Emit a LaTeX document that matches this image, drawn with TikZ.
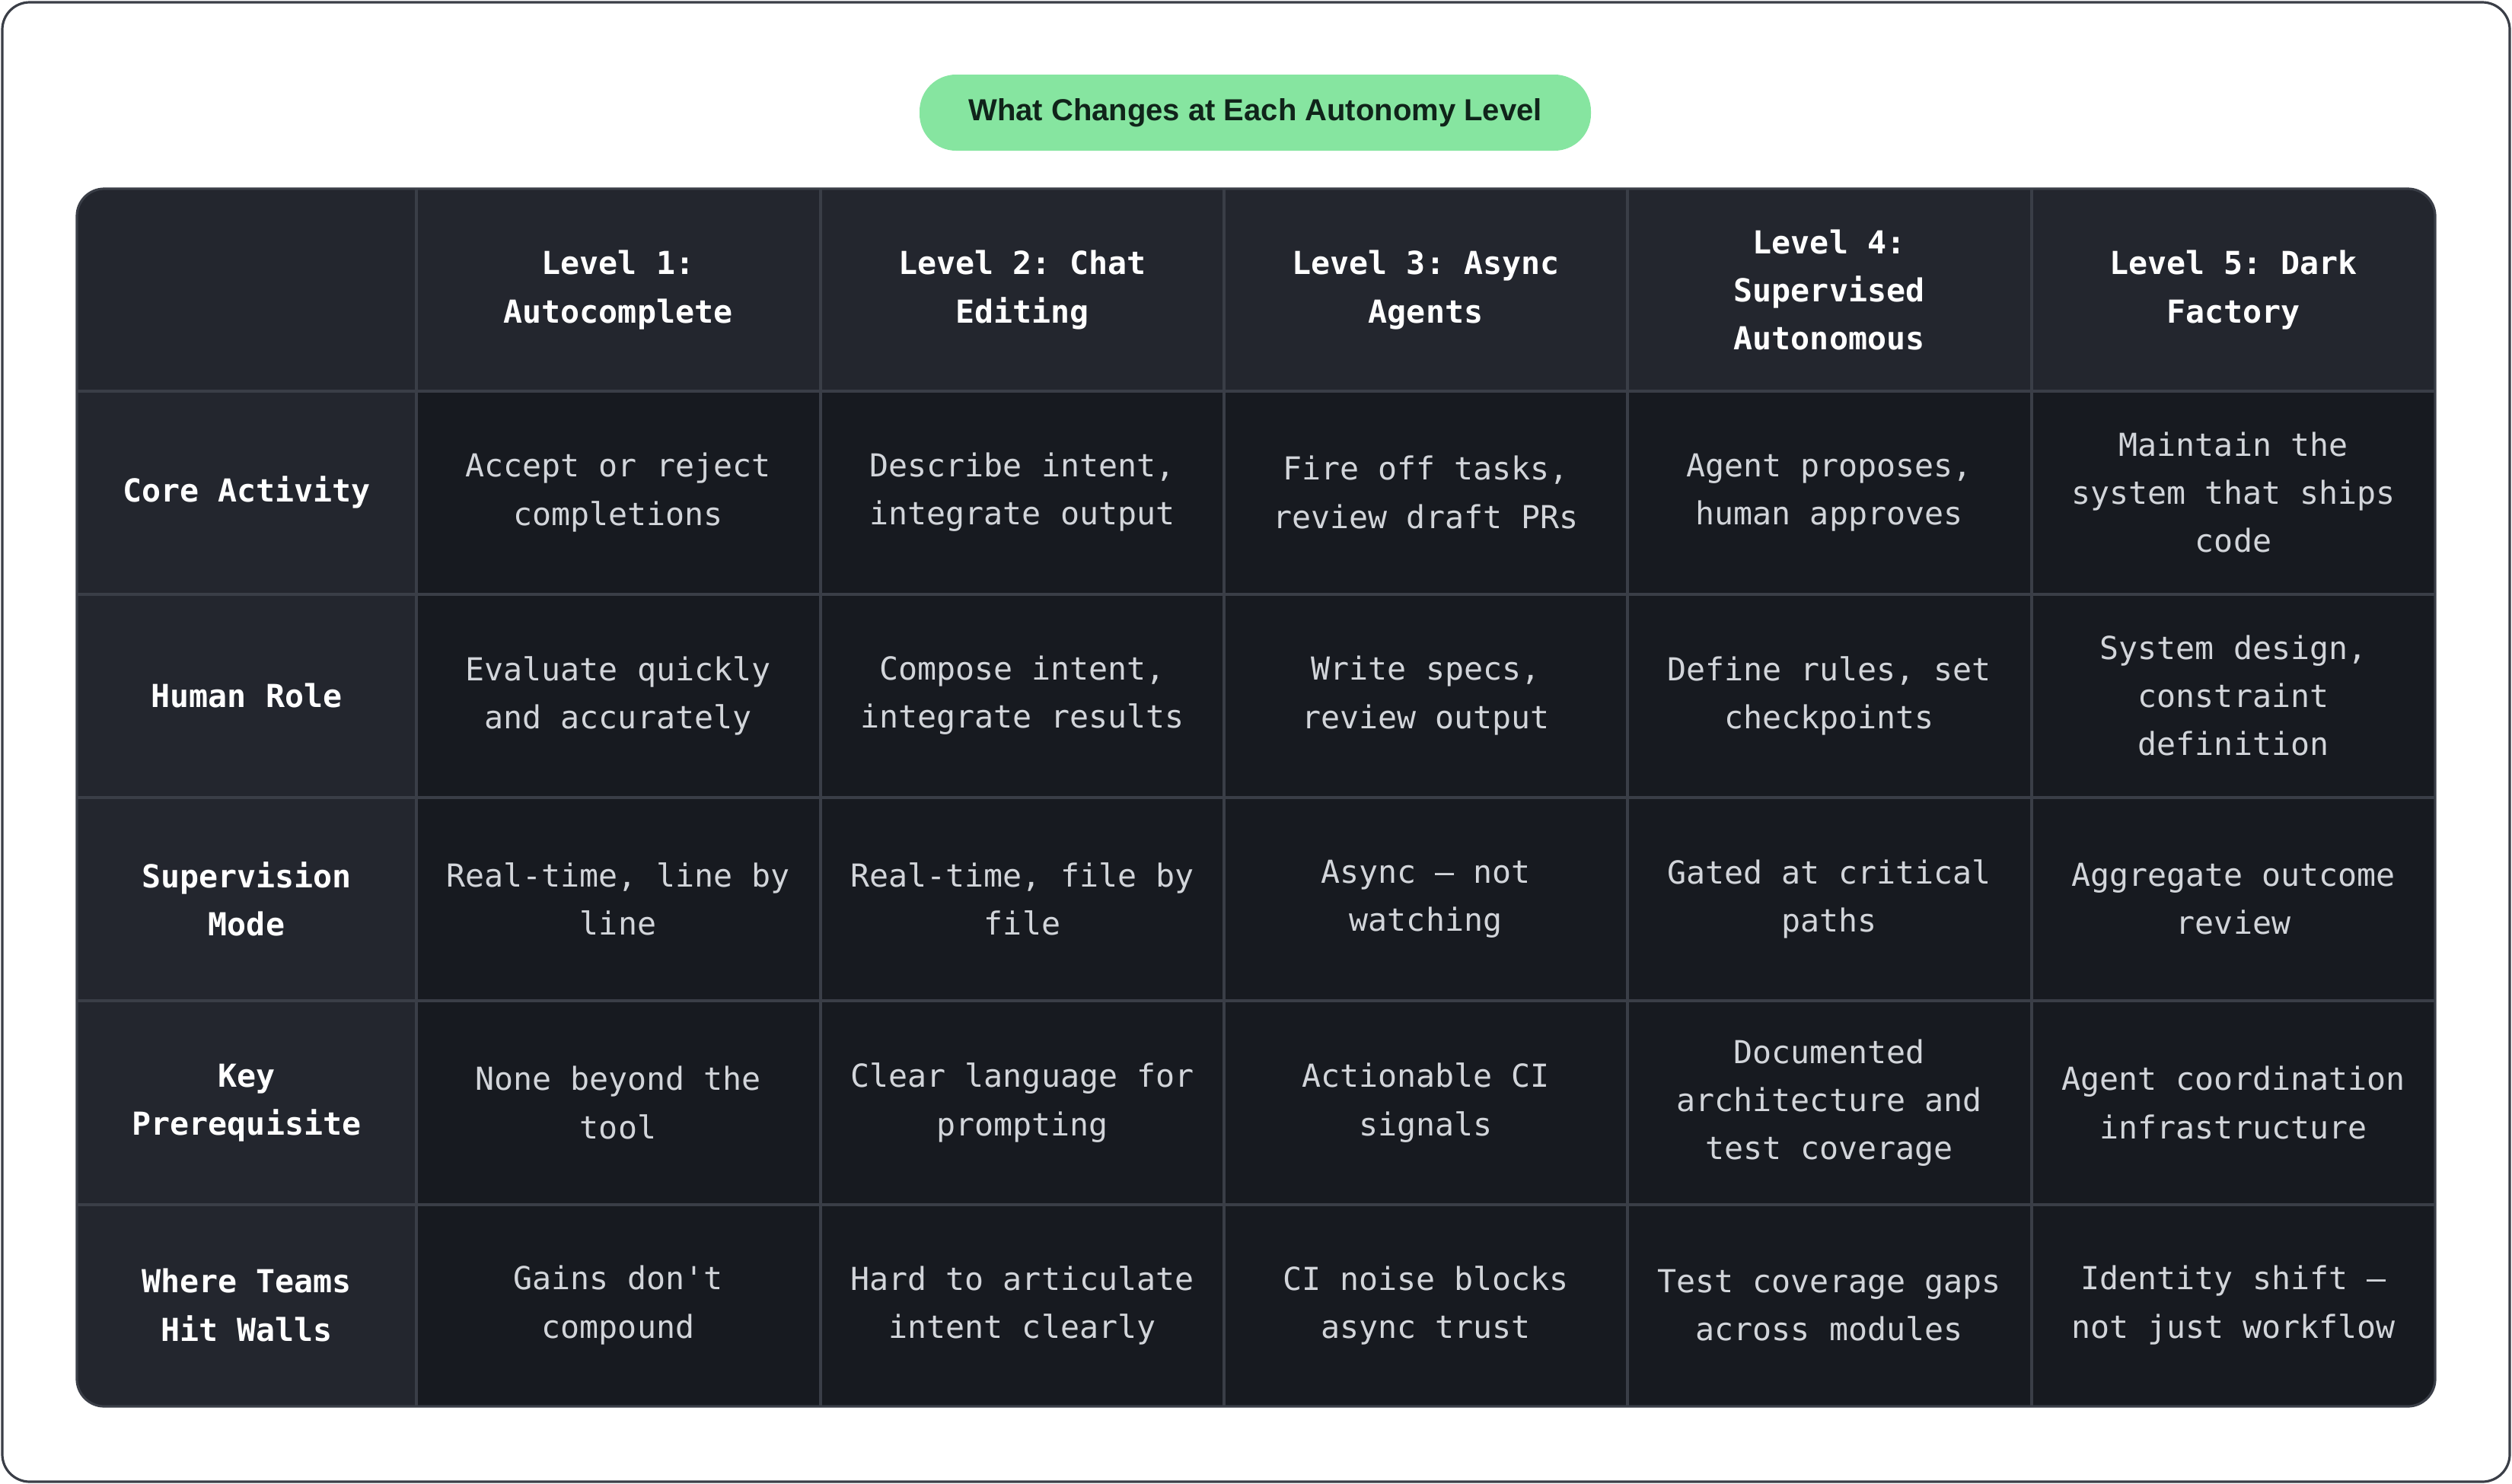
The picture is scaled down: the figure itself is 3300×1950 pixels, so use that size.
\documentclass[tikz,border=0pt]{standalone}
\usepackage{fontspec}
\setmainfont{Liberation Sans}
\setmonofont{DejaVu Sans Mono}
\definecolor{hdr}{HTML}{23262E}
\definecolor{body}{HTML}{171A20}
\definecolor{grid}{HTML}{3A3E47}
\definecolor{txt}{HTML}{D2D5DA}
\definecolor{pill}{HTML}{86E5A0}
\definecolor{pilltxt}{HTML}{10241A}
\begin{document}
\begin{tikzpicture}[x=0.25pt,y=-0.25pt,
  cell/.style={align=center,font=\ttfamily\fontsize{10.4}{15.8}\selectfont,text=txt},
  head/.style={align=center,font=\ttfamily\bfseries\fontsize{10.4}{15.8}\selectfont,text=white}]
\useasboundingbox (0,0) rectangle (3300,1950);
\draw[grid,line width=0.8pt,rounded corners=9pt] (3,3) rectangle (3297,1947);
\node[fill=pill,rounded corners=12pt,minimum width=220.5pt,minimum height=25pt,font=\bfseries\fontsize{10}{12}\selectfont,text=pilltxt] (title) at (1649,148) {What Changes at Each Autonomy Level};
% table background
\begin{scope}
\clip[rounded corners=9pt] (101,248) rectangle (3199,1848);
\fill[body] (101,248) rectangle (3199,1848);
\fill[hdr] (101,248) rectangle (3199,514);
\fill[hdr] (101,248) rectangle (547,1848);
\foreach \x in {547,1078,1608,2138,2669} \draw[grid,line width=0.8pt] (\x,248)--(\x,1848);
\foreach \y in {514,781,1048,1315,1583} \draw[grid,line width=0.8pt] (101,\y)--(3199,\y);
\end{scope}
\draw[grid,line width=0.8pt,rounded corners=9pt] (101,248) rectangle (3199,1848);
% headers
\node[head] (h1) at (812,381) {Level 1:\\Autocomplete};
\node[head] (h2) at (1343,381) {Level 2: Chat\\Editing};
\node[head] (h3) at (1873,381) {Level 3: Async\\Agents};
\node[head] (h4) at (2403,381) {Level 4:\\Supervised\\Autonomous};
\node[head] (h5) at (2934,381) {Level 5: Dark\\Factory};
% row labels
\node[head] (r1) at (324,647) {Core Activity};
\node[head] (r2) at (324,914) {Human Role};
\node[head] (r3) at (324,1181) {Supervision\\Mode};
\node[head] (r4) at (324,1449) {Key\\Prerequisite};
\node[head] (r5) at (324,1715) {Where Teams\\Hit Walls};
% row 1
\node[cell] (c11) at (812,647) {Accept or reject\\completions};
\node[cell] (c12) at (1343,647) {Describe intent,\\integrate output};
\node[cell] (c13) at (1873,647) {Fire off tasks,\\review draft PRs};
\node[cell] (c14) at (2403,647) {Agent proposes,\\human approves};
\node[cell] (c15) at (2934,647) {Maintain the\\system that ships\\code};
% row 2
\node[cell] (c21) at (812,914) {Evaluate quickly\\and accurately};
\node[cell] (c22) at (1343,914) {Compose intent,\\integrate results};
\node[cell] (c23) at (1873,914) {Write specs,\\review output};
\node[cell] (c24) at (2403,914) {Define rules, set\\checkpoints};
\node[cell] (c25) at (2934,914) {System design,\\constraint\\definition};
% row 3
\node[cell] (c31) at (812,1181) {Real-time, line by\\line};
\node[cell] (c32) at (1343,1181) {Real-time, file by\\file};
\node[cell] (c33) at (1873,1181) {Async — not\\watching};
\node[cell] (c34) at (2403,1181) {Gated at critical\\paths};
\node[cell] (c35) at (2934,1181) {Aggregate outcome\\review};
% row 4
\node[cell] (c41) at (812,1449) {None beyond the\\tool};
\node[cell] (c42) at (1343,1449) {Clear language for\\prompting};
\node[cell] (c43) at (1873,1449) {Actionable CI\\signals};
\node[cell] (c44) at (2403,1449) {Documented\\architecture and\\test coverage};
\node[cell] (c45) at (2934,1449) {Agent coordination\\infrastructure};
% row 5
\node[cell] (c51) at (812,1715) {Gains don't\\compound};
\node[cell] (c52) at (1343,1715) {Hard to articulate\\intent clearly};
\node[cell] (c53) at (1873,1715) {CI noise blocks\\async trust};
\node[cell] (c54) at (2403,1715) {Test coverage gaps\\across modules};
\node[cell] (c55) at (2934,1715) {Identity shift —\\not just workflow};
\end{tikzpicture}
\end{document}
